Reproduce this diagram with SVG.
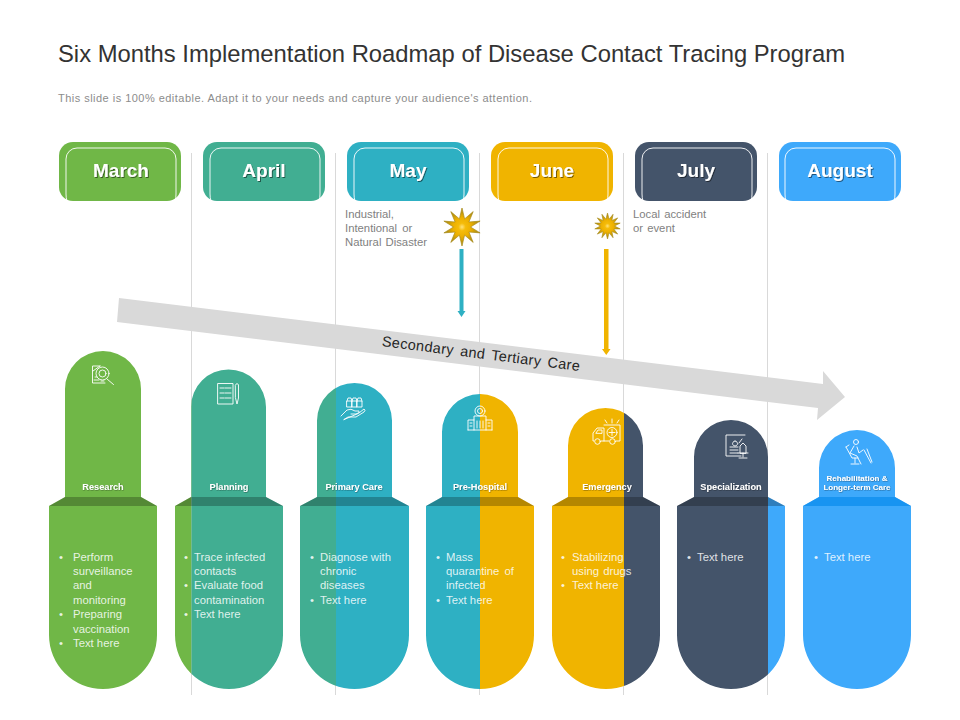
<svg xmlns="http://www.w3.org/2000/svg" xmlns:xlink="http://www.w3.org/1999/xlink" width="960" height="720" viewBox="0 0 960 720">
<style>
text{font-family:"Liberation Sans",Arial,sans-serif}
.hd{font-size:19px;font-weight:700;fill:#fff;text-anchor:middle;filter:url(#sh)}
.lb{font-size:9.200px;font-weight:700;fill:#fff;text-anchor:middle;filter:url(#sh2)}
.bd{font-size:11.300px;fill:#fff;fill-opacity:.85}
.nt{font-size:11.300px;fill:#7f7f7f}
.ic{fill:none;stroke:#fff;stroke-width:.9;stroke-linejoin:round;stroke-linecap:round}
.vl{stroke:#d9d9d9;stroke-width:1;fill:none}
.in{fill:none;stroke:#fff;stroke-width:1;stroke-opacity:.9}
.band{fill:#000;fill-opacity:.25}
.green{fill:#70B747}.teal{fill:#41AE92}.cyan{fill:#2EB0C3}.yellow{fill:#F0B400}.navy{fill:#44546A}.blue{fill:#3EA9FB}
</style>
<defs>
<filter id="sh" x="-20%" y="-20%" width="140%" height="150%"><feDropShadow dx="1" dy="1" stdDeviation=".6" flood-color="#000" flood-opacity=".5"/></filter>
<filter id="sh2" x="-20%" y="-20%" width="140%" height="150%"><feDropShadow dx=".5" dy=".5" stdDeviation=".4" flood-color="#000" flood-opacity=".5"/></filter>
<radialGradient id="burst"><stop offset="0" stop-color="#FFE27A"/><stop offset=".2" stop-color="#F5BC0A"/><stop offset=".5" stop-color="#EDB000"/><stop offset="1" stop-color="#9C8418"/></radialGradient>
<path id="inner" d="M1,59 Q0,56 0,52 V17 A11,11 0 0 1 11,6 H99 A11,11 0 0 1 110,17 V52 Q110,56 109,59"/>
<clipPath id="c2"><path d="M191,497V407A37.500,37.500 0 0 1 266,407V497L283,506V635A54,54 0 0 1 175,635V506Z"/></clipPath>
<clipPath id="c3"><path d="M317,497V420.500A37.500,37.500 0 0 1 392,420.500V497L409,506V635A54.500,54 0 0 1 300,635V506Z"/></clipPath>
<clipPath id="c4"><path d="M442,497V432A38,38 0 0 1 518,432V497L534,506V635A54,54 0 0 1 426,635V506Z"/></clipPath>
<clipPath id="c5"><path d="M568,497V445.500A37.500,37.500 0 0 1 643,445.500V497L660,506V635A54,54 0 0 1 552,635V506Z"/></clipPath>
<clipPath id="c6"><path d="M694,497V457A37,37 0 0 1 768,457V497L785,506V635A54,54 0 0 1 677,635V506Z"/></clipPath>
</defs>
<rect width="960" height="720" fill="#fff"/>
<text x="58" y="62" font-size="24.500" fill="#333" id="title" textLength="787" lengthAdjust="spacingAndGlyphs">Six Months Implementation Roadmap of Disease Contact Tracing Program</text>
<text x="58" y="102" font-size="11" fill="#8c8c8c" textLength="474" lengthAdjust="spacing">This slide is 100% editable. Adapt it to your needs and capture your audience's attention.</text>
<g id="connectors">
<path class="vl" d="M191.500,153V695M335.500,153V695M479.500,153V695M623.500,153V695M767.500,153V695"/>
<path d="M119,298L823,384L823,371L845,397L817,420L818,408L117,322Z" fill="#d9d9d9"/>
<path d="M459.500,249H463.500V311H465.500L461.500,317L457.500,311H459.500Z" class="cyan"/>
<path d="M604,249H608.500V349H610.500L606.250,355L602,349H604Z" class="yellow"/>
<text transform="translate(480.500,358.500) rotate(7.200)" text-anchor="middle" font-size="14.500" fill="#262626" letter-spacing=".35" word-spacing="2">Secondary and Tertiary Care</text>
</g>
<g id="h-march"><rect x="59" y="142" width="122" height="59" rx="14" class="green"/><use xlink:href="#inner" x="66" y="142" class="in"/><text x="121" y="177" class="hd">March</text></g>
<g id="h-april"><rect x="203" y="142" width="122" height="59" rx="14" class="teal"/><use xlink:href="#inner" x="210" y="142" class="in"/><text x="264" y="177" class="hd">April</text></g>
<g id="h-may"><rect x="347" y="142" width="122" height="59" rx="14" class="cyan"/><use xlink:href="#inner" x="354" y="142" class="in"/><text x="408" y="177" class="hd">May</text></g>
<g id="h-june"><rect x="491" y="142" width="122" height="59" rx="14" class="yellow"/><use xlink:href="#inner" x="498" y="142" class="in"/><text x="552" y="177" class="hd">June</text></g>
<g id="h-july"><rect x="635" y="142" width="122" height="59" rx="14" class="navy"/><use xlink:href="#inner" x="642" y="142" class="in"/><text x="696" y="177" class="hd">July</text></g>
<g id="h-august"><rect x="779" y="142" width="122" height="59" rx="14" class="blue"/><use xlink:href="#inner" x="785" y="142" class="in"/><text x="840" y="177" class="hd">August</text></g>
<g id="note-may"><text class="nt" x="345" y="218">Industrial,</text><text class="nt" x="345" y="232" word-spacing="2">Intentional or</text><text class="nt" x="345" y="246" word-spacing="1">Natural Disaster</text></g>
<g id="note-july"><text class="nt" x="633" y="218" word-spacing="1">Local accident</text><text class="nt" x="633" y="232" word-spacing="1">or event</text></g>
<g id="star-big"><path transform="translate(462,227)" d="M0,-19L2.600,-8.100L11.200,-15.400L6.900,-5L18.100,-5.900L8.500,0L18.100,5.900L6.900,5L11.200,15.400L2.600,8.100L0,19L-2.600,8.100L-11.200,15.400L-6.900,5L-18.100,5.900L-8.500,0L-18.100,-5.900L-6.900,-5L-11.200,-15.400L-2.600,-8.100Z" fill="url(#burst)" stroke="#A98B18" stroke-width=".7"/></g>
<g id="star-small"><path transform="translate(607.500,226)" d="M0,-13L1.600,-6.800L5.600,-11.700L4.400,-5.500L10.200,-8.100L6.300,-3L12.700,-2.900L7,0L12.700,2.900L6.300,3L10.200,8.100L4.400,5.500L5.600,11.700L1.600,6.800L0,13L-1.600,6.800L-5.600,11.700L-4.400,5.500L-10.200,8.100L-6.300,3L-12.700,2.900L-7,0L-12.700,-2.900L-6.300,-3L-10.200,-8.100L-4.400,-5.500L-5.600,-11.700L-1.600,-6.800Z" fill="url(#burst)" stroke="#A98B18" stroke-width=".6"/></g>

<g id="n-research">
<path d="M65,497V389A38,38 0 0 1 141,389V497L157,506V635A54,54 0 0 1 49,635V506Z" class="green"/>
<path d="M65,497H141L157,506H49Z" class="band"/>
<g class="ic"><path d="M100,366H92.500V383H105"/><path d="M100,366L93,371"/><circle cx="102.500" cy="373.500" r="6.500"/><circle cx="102.500" cy="373.500" r="3.500"/><path d="M107,379L113.500,384.500M95,377H97M94,380H99M101,381H104"/></g>
<text x="103" y="490" class="lb">Research</text>
<text class="bd" x="59" y="561">•</text><text class="bd" x="73" y="561">Perform</text><text class="bd" x="73" y="575">surveillance</text><text class="bd" x="73" y="589">and</text><text class="bd" x="73" y="604">monitoring</text><text class="bd" x="59" y="618">•</text><text class="bd" x="73" y="618">Preparing</text><text class="bd" x="73" y="633">vaccination</text><text class="bd" x="59" y="647">•</text><text class="bd" x="73" y="647">Text here</text>
</g>
<g id="n-planning">
<g clip-path="url(#c2)"><rect x="170" y="360" width="21.500" height="335" class="green"/><rect x="191.500" y="360" width="100" height="335" class="teal"/></g>
<path d="M191,497H266L283,506H175Z" class="band"/>
<g class="ic"><path d="M218,383.500H233V404H218ZM220,388H224M225,388H231M220,393H224M225,393H231M220,398H224M225,398H231"/><path d="M235.500,385Q237,382 238.500,385V398L237,404L235.500,398Z"/></g>
<text x="229" y="490" class="lb">Planning</text>
<text class="bd" x="184" y="561">•</text><text class="bd" x="194" y="561">Trace infected</text><text class="bd" x="194" y="575">contacts</text><text class="bd" x="184" y="589">•</text><text class="bd" x="194" y="589">Evaluate food</text><text class="bd" x="194" y="604">contamination</text><text class="bd" x="184" y="618">•</text><text class="bd" x="194" y="618">Text here</text>
</g>
<g id="n-primary">
<g clip-path="url(#c3)"><rect x="295" y="375" width="41" height="320" class="teal"/><rect x="336" y="375" width="80" height="320" class="cyan"/></g>
<path d="M317,497H392L409,506H300Z" class="band"/>
<g class="ic"><path d="M347,401H352V407H347ZM352,401H357V407H352ZM357,401H362V407H357ZM347,401L348,398H351L352,401M352,401L353,398H356L357,401M357,401L358,398H361L362,401"/><path d="M341,416L347,410Q351,408 355,411H359Q360,413 356,414H351M359,413L364,409Q366,410 364,412L356,417H348L344,419.500Z"/></g>
<text x="354" y="490" class="lb">Primary Care</text>
<text class="bd" x="310" y="561">•</text><text class="bd" x="320" y="561">Diagnose with</text><text class="bd" x="320" y="575">chronic</text><text class="bd" x="320" y="589">diseases</text><text class="bd" x="310" y="604">•</text><text class="bd" x="320" y="604">Text here</text>
</g>
<g id="n-prehospital">
<g clip-path="url(#c4)"><rect x="420" y="385" width="60" height="310" class="cyan"/><rect x="480" y="385" width="60" height="310" class="yellow"/></g>
<path d="M442,497H518L534,506H426Z" class="band"/>
<g class="ic"><circle cx="480" cy="411" r="5"/><circle cx="480" cy="411" r="2.500"/><path d="M474,430V416H486V430M468,430V420H474M486,420H492V430M468,430H492M477,421V428M480,421V428M483,421V428M470,423H472M470,426H472M488,423H490M488,426H490"/></g>
<text x="480" y="490" class="lb">Pre-Hospital</text>
<text class="bd" x="436" y="561">•</text><text class="bd" x="446" y="561">Mass</text><text class="bd" x="446" y="575" word-spacing="2">quarantine of</text><text class="bd" x="446" y="589">infected</text><text class="bd" x="436" y="604">•</text><text class="bd" x="446" y="604">Text here</text>
</g>
<g id="n-emergency">
<g clip-path="url(#c5)"><rect x="545" y="400" width="79" height="295" class="yellow"/><rect x="624" y="400" width="40" height="295" class="navy"/></g>
<path d="M568,497H643L660,506H552Z" class="band"/>
<g class="ic"><path d="M604,425H620V441H616M609,441H601M594,441H593V433L597,428H604V441M596,433L598,430H602V433Z"/><circle cx="597.500" cy="441.500" r="2.800"/><circle cx="612.500" cy="441.500" r="2.800"/><circle cx="612" cy="432.500" r="5"/><path d="M612,429.500V435.500M609,432.500H615M612,423V419M607,423L605,420M617,423L619,420"/></g>
<text x="607" y="490" class="lb">Emergency</text>
<text class="bd" x="561" y="561">•</text><text class="bd" x="572" y="561">Stabilizing</text><text class="bd" x="572" y="575" word-spacing="1">using drugs</text><text class="bd" x="561" y="589">•</text><text class="bd" x="572" y="589">Text here</text>
</g>
<g id="n-specialization">
<g clip-path="url(#c6)"><rect x="670" y="410" width="98" height="285" class="navy"/><rect x="768" y="410" width="20" height="285" class="blue"/></g>
<path d="M694,497H768L785,506H677Z" class="band"/>
<g class="ic"><path d="M745,435H726V456H741M735,441a2.500,2.500 0 1 0 .1,0M739,443L742,439M730,447H738M730,450H738M730,453H738M740,453V446L743,443L746,446V453ZM738,453H748M743,453V457M739,458H747"/></g>
<text x="731" y="490" class="lb">Specialization</text>
<text class="bd" x="687" y="561">•</text><text class="bd" x="697" y="561">Text here</text>
</g>
<g id="n-rehab">
<path d="M819,497V468A38,38 0 0 1 895,468V497L911,506V635A54,54 0 0 1 803,635V506Z" class="blue"/>
<path d="M819,497H895L911,506H803Z" fill="#0F8FEF" fill-opacity=".8"/>
<g class="ic"><circle cx="856" cy="442" r="2.500"/><path d="M854,446L850,453L857,456L861,464M857,447L859,453L863,450M846,447L852,458H858M849,445L846,447M855,458V463M851,464H859M864,450L871,463M867,449L872,462"/></g>
<text x="857" y="481" class="lb" style="font-size:8px">Rehabilitation &amp;</text>
<text x="857" y="490" class="lb" style="font-size:8px">Longer-term Care</text>
<text class="bd" x="814" y="561">•</text><text class="bd" x="824" y="561">Text here</text>
</g>
</svg>
